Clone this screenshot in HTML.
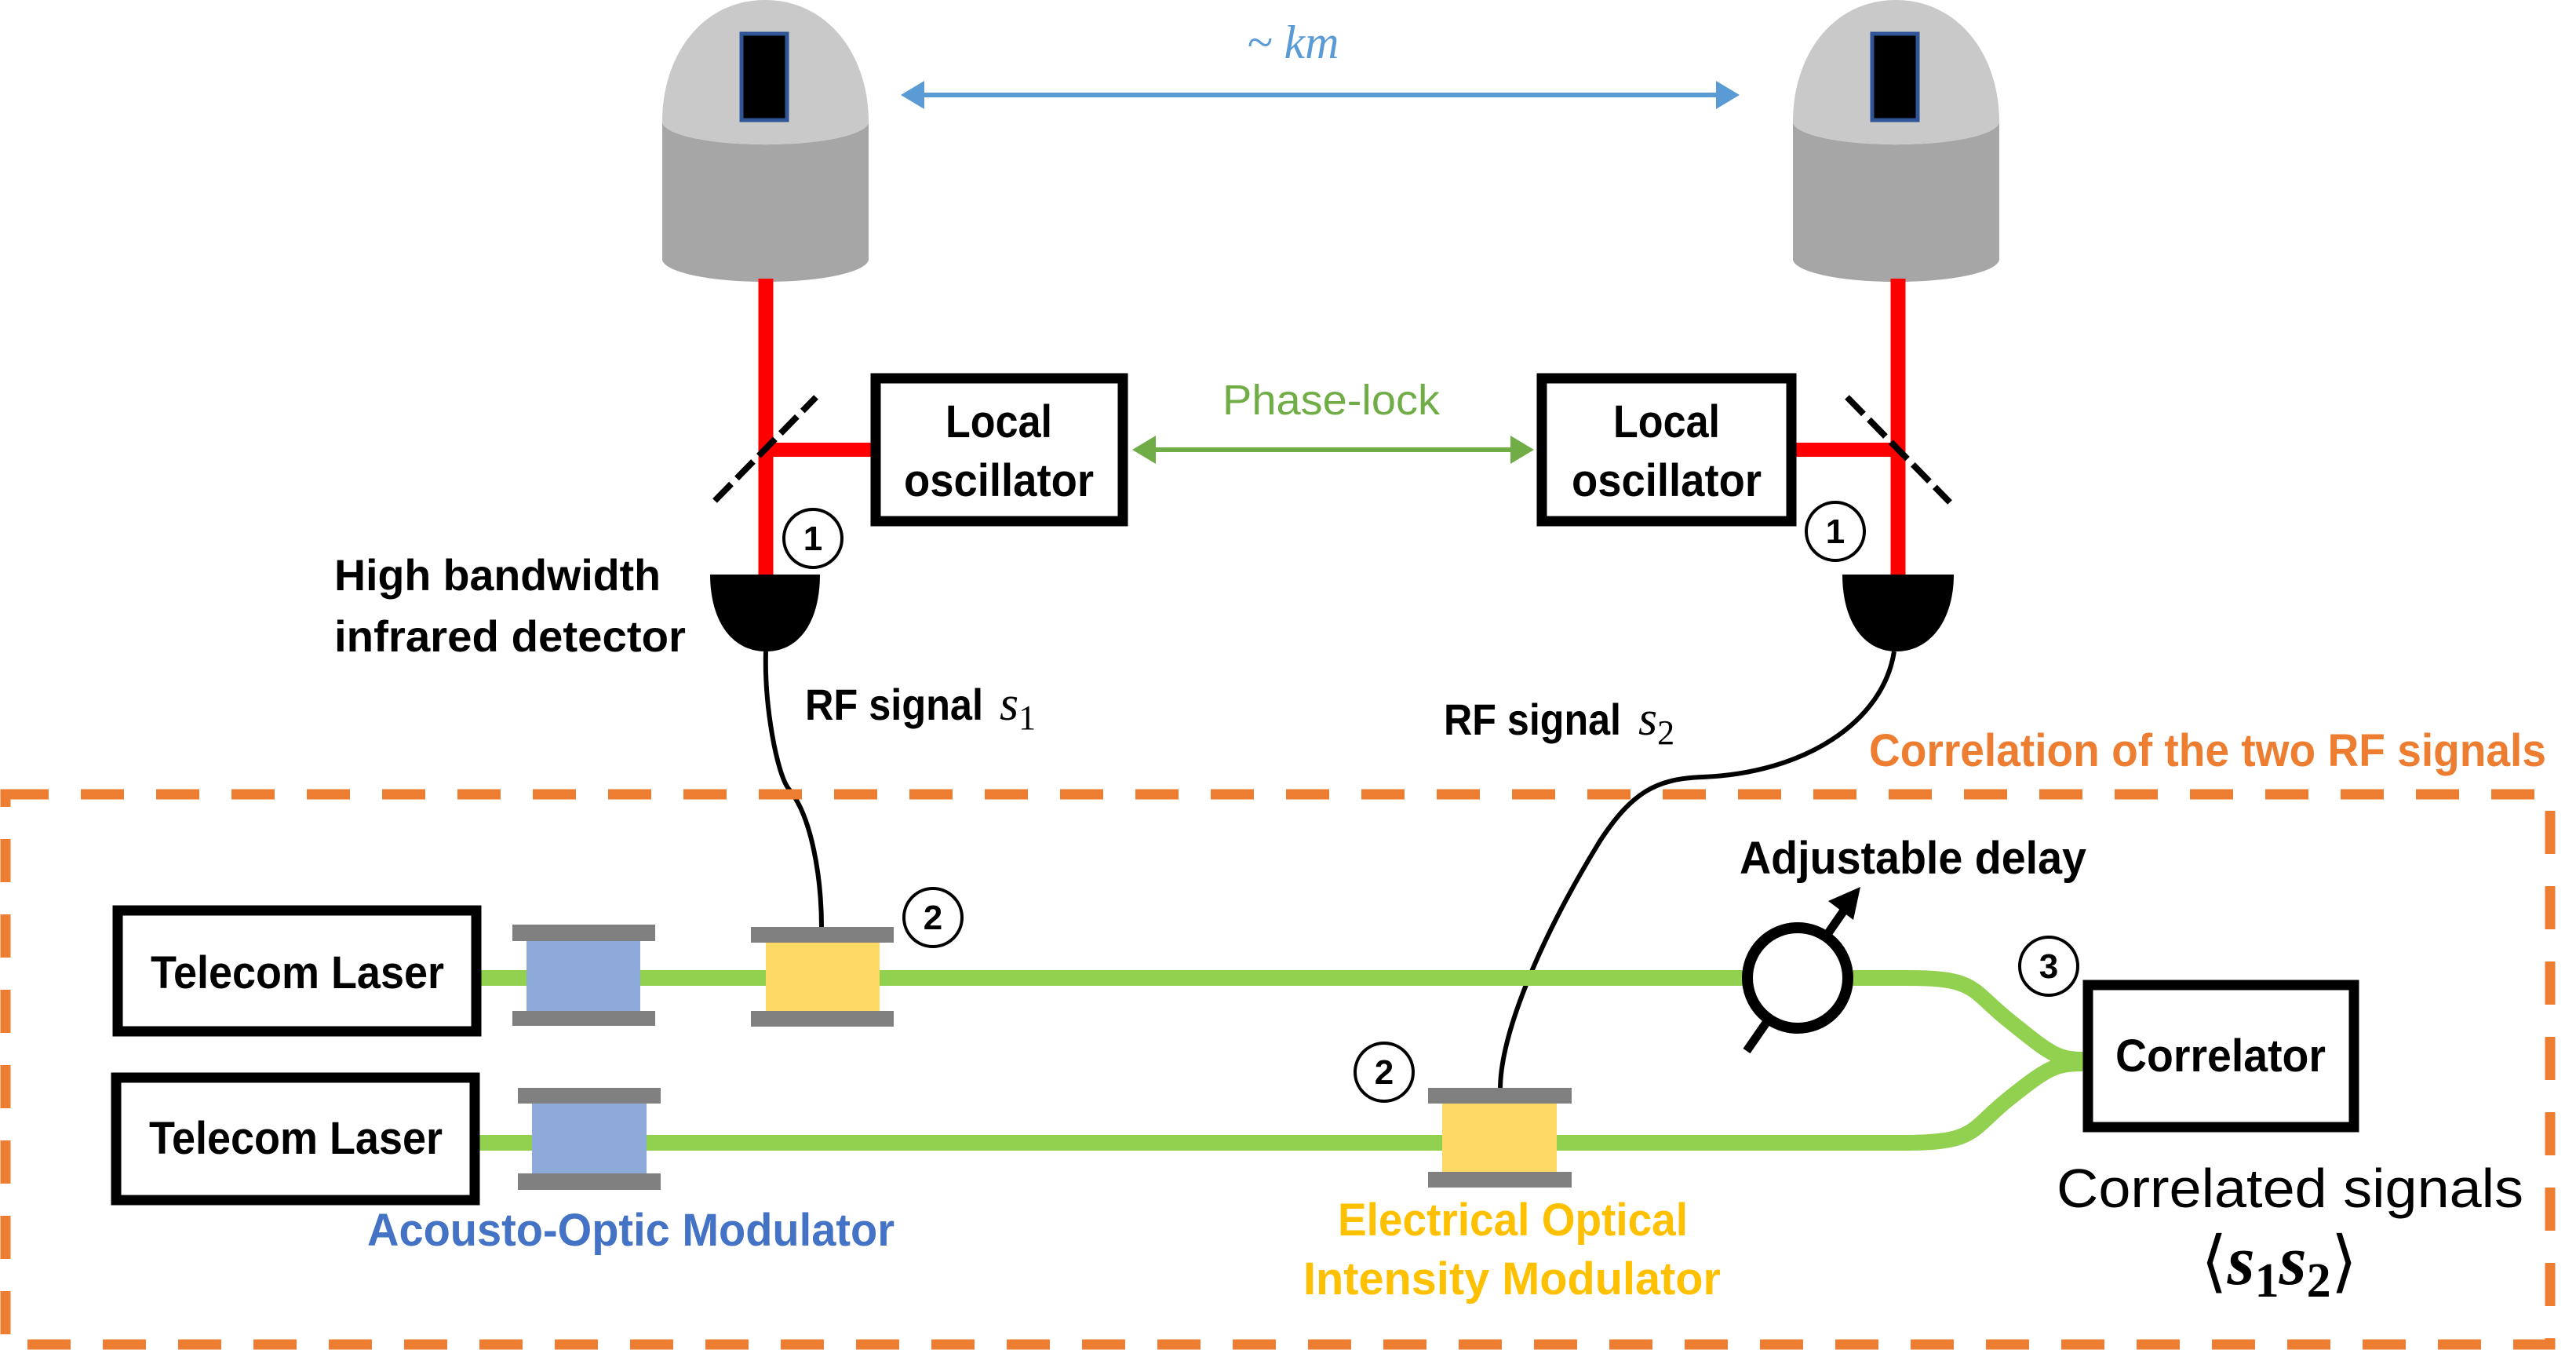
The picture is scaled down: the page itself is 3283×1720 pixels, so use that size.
<!DOCTYPE html>
<html><head><meta charset="utf-8"><style>html,body{margin:0;padding:0;background:#fff}svg{display:block}</style></head>
<body>
<svg width="3283" height="1720" viewBox="0 0 3283 1720" xmlns="http://www.w3.org/2000/svg" font-family="Liberation Sans, sans-serif">
<defs>
<marker id="ab" markerWidth="6" markerHeight="6" refX="3" refY="3" orient="auto-start-reverse" markerUnits="strokeWidth"><path d="M0,0 L5,3 L0,6 Z" fill="#5B9BD5"/></marker>
<marker id="ag" markerWidth="6" markerHeight="6" refX="3" refY="3" orient="auto-start-reverse" markerUnits="strokeWidth"><path d="M0,0 L5,3 L0,6 Z" fill="#70AD47"/></marker>
</defs>
<g>
<path d="M844,330 L844,155 A131,29 0 0 0 1107,155 L1107,330 A131,29 0 0 1 844,330 Z" fill="#A6A6A6"/>
<path d="M844,155 C844,70 895,0 975,0 C1055,0 1107,70 1107,155 A131,29 0 0 1 844,155 Z" fill="#C9C9C9"/>
<rect x="945" y="43" width="58" height="110" fill="#000" stroke="#2F5597" stroke-width="5"/>
</g>
<g transform="translate(1441,0)">
<path d="M844,330 L844,155 A131,29 0 0 0 1107,155 L1107,330 A131,29 0 0 1 844,330 Z" fill="#A6A6A6"/>
<path d="M844,155 C844,70 895,0 975,0 C1055,0 1107,70 1107,155 A131,29 0 0 1 844,155 Z" fill="#C9C9C9"/>
<rect x="945" y="43" width="58" height="110" fill="#000" stroke="#2F5597" stroke-width="5"/>
</g>
<line x1="976" y1="355" x2="976" y2="735" stroke="#FF0000" stroke-width="19"/>
<line x1="976" y1="573" x2="1112" y2="573" stroke="#FF0000" stroke-width="18"/>
<line x1="2419" y1="355" x2="2419" y2="735" stroke="#FF0000" stroke-width="19"/>
<line x1="2288" y1="573" x2="2419" y2="573" stroke="#FF0000" stroke-width="18"/>
<line x1="911" y1="638" x2="1040" y2="506" stroke="#000" stroke-width="8" stroke-dasharray="30,10"/>
<line x1="2354" y1="506" x2="2485" y2="640" stroke="#000" stroke-width="8" stroke-dasharray="30,10"/>
<rect x="1116" y="482" width="315" height="182" fill="#fff" stroke="#000" stroke-width="13"/>
<rect x="1965" y="482" width="318" height="182" fill="#fff" stroke="#000" stroke-width="13"/>
<g font-weight="bold" font-size="58" fill="#000" text-anchor="middle">
<text x="1273" y="557" textLength="136" lengthAdjust="spacingAndGlyphs">Local</text>
<text x="1273" y="632" textLength="242" lengthAdjust="spacingAndGlyphs">oscillator</text>
<text x="2124" y="557" textLength="136" lengthAdjust="spacingAndGlyphs">Local</text>
<text x="2124" y="632" textLength="242" lengthAdjust="spacingAndGlyphs">oscillator</text>
</g>
<line x1="1160" y1="121" x2="2205" y2="121" stroke="#5B9BD5" stroke-width="6" marker-start="url(#ab)" marker-end="url(#ab)"/>
<text x="1589" y="74" font-family="Liberation Serif, serif" font-style="italic" font-size="60" fill="#5B9BD5">~ km</text>
<line x1="1455" y1="573" x2="1943" y2="573" stroke="#70AD47" stroke-width="6" marker-start="url(#ag)" marker-end="url(#ag)"/>
<text x="1558" y="528" font-size="54" fill="#70AD47" textLength="277" lengthAdjust="spacingAndGlyphs">Phase-lock</text>
<path d="M905,732 L1045,732 C1045,790 1020,830 976,830 C932,830 905,790 905,732 Z" fill="#000"/>
<path d="M2348,732 L2490,732 C2490,790 2460,830 2417,830 C2374,830 2348,790 2348,732 Z" fill="#000"/>
<g fill="#fff" stroke="#000" stroke-width="4">
<circle cx="1036" cy="686" r="37"/><circle cx="2339" cy="677" r="37"/>
<circle cx="1189" cy="1169" r="37"/><circle cx="1764" cy="1366" r="37"/>
<circle cx="2611" cy="1231" r="37"/>
</g>
<g font-weight="bold" font-size="44" text-anchor="middle" fill="#000">
<text x="1036" y="701">1</text><text x="2339" y="692">1</text>
<text x="1189" y="1184">2</text><text x="1764" y="1381">2</text><text x="2611" y="1246">3</text>
</g>
<g font-weight="bold" font-size="56" fill="#000">
<text x="426" y="752" textLength="416" lengthAdjust="spacingAndGlyphs">High bandwidth</text>
<text x="426" y="830" textLength="448" lengthAdjust="spacingAndGlyphs">infrared detector</text>
<text x="1026" y="917" textLength="227" lengthAdjust="spacingAndGlyphs">RF signal</text>
<text x="1840" y="936" textLength="226" lengthAdjust="spacingAndGlyphs">RF signal</text>
</g>
<text x="1274" y="917" font-family="Liberation Serif, serif" font-style="italic" font-size="62">s<tspan font-style="normal" font-size="44" dy="12">1</tspan></text>
<text x="2088" y="936" font-family="Liberation Serif, serif" font-style="italic" font-size="62">s<tspan font-style="normal" font-size="44" dy="12">2</tspan></text>
<path d="M976,830 C974,900 990,985 1005,1005 C1035,1040 1047,1120 1047,1182" fill="none" stroke="#000" stroke-width="6"/>
<path d="M2414,830 C2400,920 2300,985 2170,990 C2110,992 2080,1010 2040,1070 C1960,1200 1912,1320 1912,1388" fill="none" stroke="#000" stroke-width="6"/>
<rect x="7" y="1012" width="3243" height="701" fill="none" stroke="#ED7D31" stroke-width="13" stroke-dasharray="55,41"/>
<text x="2382" y="976" font-weight="bold" font-size="58" fill="#ED7D31" textLength="863" lengthAdjust="spacingAndGlyphs">Correlation of the two RF signals</text>
<path d="M613,1246 L2430,1246 C2520,1246 2510,1260 2560,1300 C2610,1340 2620,1350 2655,1350" fill="none" stroke="#92D050" stroke-width="20"/>
<path d="M611,1456 L2426,1456 C2520,1456 2510,1440 2560,1400 C2610,1360 2620,1355 2655,1355" fill="none" stroke="#92D050" stroke-width="20"/>
<rect x="150" y="1160" width="457" height="154" fill="#fff" stroke="#000" stroke-width="13"/>
<rect x="148" y="1373" width="457" height="156" fill="#fff" stroke="#000" stroke-width="13"/>
<g font-weight="bold" font-size="58" text-anchor="middle">
<text x="379" y="1259" textLength="374" lengthAdjust="spacingAndGlyphs">Telecom Laser</text>
<text x="377" y="1470" textLength="374" lengthAdjust="spacingAndGlyphs">Telecom Laser</text>
</g>
<rect x="671" y="1199" width="145" height="89" fill="#8EAADB"/>
<rect x="653" y="1178" width="182" height="21" fill="#808080"/><rect x="653" y="1288" width="182" height="19" fill="#808080"/>
<rect x="678" y="1406" width="146" height="89" fill="#8EAADB"/>
<rect x="660" y="1386" width="182" height="20" fill="#808080"/><rect x="660" y="1495" width="182" height="21" fill="#808080"/>
<rect x="976" y="1201" width="145" height="87" fill="#FFD966"/>
<rect x="957" y="1181" width="182" height="20" fill="#808080"/><rect x="957" y="1288" width="182" height="20" fill="#808080"/>
<rect x="1838" y="1406" width="146" height="87" fill="#FFD966"/>
<rect x="1820" y="1386" width="183" height="20" fill="#808080"/><rect x="1820" y="1493" width="183" height="20" fill="#808080"/>
<g font-weight="bold" font-size="58">
<text x="468" y="1587" fill="#4472C4" textLength="672" lengthAdjust="spacingAndGlyphs">Acousto-Optic Modulator</text>
<text x="1705" y="1574" fill="#FFC000" textLength="446" lengthAdjust="spacingAndGlyphs">Electrical Optical</text>
<text x="1661" y="1649" fill="#FFC000" textLength="532" lengthAdjust="spacingAndGlyphs">Intensity Modulator</text>
<text x="2217" y="1113" fill="#000" textLength="442" lengthAdjust="spacingAndGlyphs">Adjustable delay</text>
</g>
<line x1="2226" y1="1339" x2="2350" y2="1160" stroke="#000" stroke-width="11"/>
<path d="M2371,1130 L2330,1148 L2362,1172 Z" fill="#000"/>
<circle cx="2291" cy="1246" r="64" fill="#fff" stroke="#000" stroke-width="14"/>
<rect x="2661" y="1255" width="339" height="181" fill="#fff" stroke="#000" stroke-width="13"/>
<text x="2830" y="1365" font-weight="bold" font-size="58" text-anchor="middle" textLength="268" lengthAdjust="spacingAndGlyphs">Correlator</text>
<text x="2621" y="1538" font-size="70" textLength="595" lengthAdjust="spacingAndGlyphs">Correlated signals</text>
<text x="2805" y="1636" font-family="DejaVu Serif, Liberation Serif, serif" font-size="86">⟨<tspan font-family="Liberation Serif, serif" font-weight="bold" font-style="italic" font-size="90">s</tspan><tspan font-family="Liberation Serif, serif" font-weight="bold" font-size="62" dy="16">1</tspan><tspan font-family="Liberation Serif, serif" font-weight="bold" font-style="italic" font-size="90" dy="-16">s</tspan><tspan font-family="Liberation Serif, serif" font-weight="bold" font-size="62" dy="16">2</tspan><tspan dy="-16">⟩</tspan></text>
</svg>
</body></html>
